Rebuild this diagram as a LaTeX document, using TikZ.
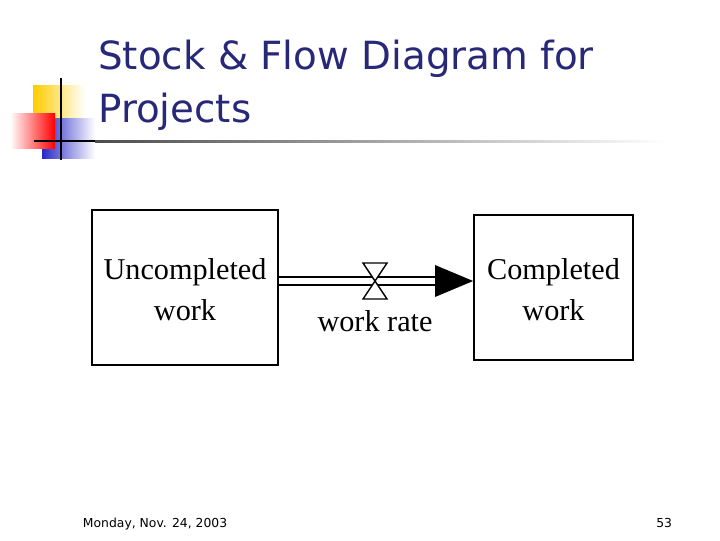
\documentclass[tikz,border=0pt]{standalone}
\usepackage{fontspec}
\setmainfont{Liberation Serif}
\newfontfamily\titlefont{DejaVu Sans}
\definecolor{tblue}{RGB}{40,40,120}
\definecolor{dblue}{RGB}{40,40,200}
\definecolor{dyel}{RGB}{255,204,0}
\begin{document}
\begin{tikzpicture}[x=0.025cm,y=-0.025cm,
  stock/.style={draw,line width=1.2pt,inner sep=0pt},
  lbl/.style={font=\fontsize{21.5}{29}\selectfont,align=center},
  foot/.style={font=\titlefont\fontsize{8.8}{10}\selectfont,anchor=base west}]
\useasboundingbox (0,0) rectangle (720,540);
% logo decoration
\shade[left color=dyel,right color=white] (33,85) rectangle (85,120);
\shade[left color=dblue,right color=white] (42,118) rectangle (95,158);
\shade[left color=white,right color=red] (10,113) rectangle (55,148);
\draw[line width=1.5pt] (61,78) -- (61,160);
\draw[line width=1.5pt] (34,141) -- (100,141);
\shade[left color=black!70,right color=white] (95,140) rectangle (665,142.5);
% title
\node[font=\titlefont\fontsize{27.6}{37.5}\selectfont,text=tblue,anchor=north west,align=left,inner sep=0pt] (title) at (98,40) {Stock \& Flow Diagram for\\Projects};
% stocks
\node[stock,minimum width=186*0.025cm,minimum height=155*0.025cm] (unc) at (185,287.5) {};
\node[lbl] at (185,290) {Uncompleted\\work};
\node[stock,minimum width=159*0.025cm,minimum height=145*0.025cm] (comp) at (553.5,287.5) {};
\node[lbl] at (553.5,290) {Completed\\work};
% pipe
\coordinate (a1) at (unc.east |- 0,277);
\coordinate (a2) at (unc.east |- 0,285);
\draw[line width=1.2pt] (a1) -- (437,277);
\draw[line width=1.2pt] (a2) -- (437,285);
\fill (435,265) -- (comp.west |- 0,281) -- (435,297) -- cycle;
% valve
\draw[fill=white,line width=1pt] (363,263) -- (387,263) -- (363,299) -- (387,299) -- cycle;
\node[lbl,anchor=base] (rate) at (375,331) {work rate};
% footer
\node[foot] (date) at (78,527) {Monday, Nov. 24, 2003};
\node[foot,anchor=base east] (pg) at (677,527) {53};
\end{tikzpicture}
\end{document}
